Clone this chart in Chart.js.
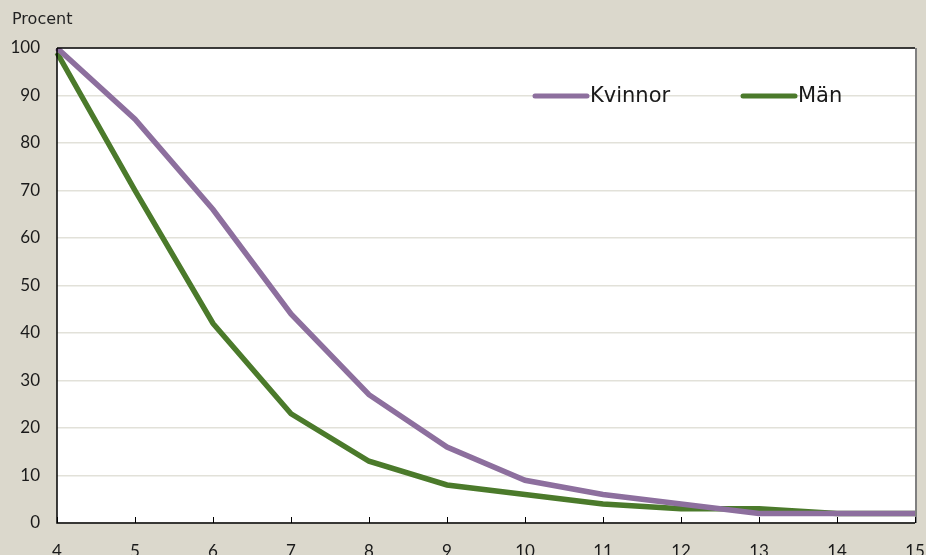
<!DOCTYPE html>
<html>
<head>
<meta charset="utf-8">
<script src="https://cdn.jsdelivr.net/npm/chart.js@4.4.1/dist/chart.umd.min.js"></script>
<style>
  html, body { margin: 0; padding: 0; background: #dbd8cc; }
  #wrap { width: 926px; height: 555px; }
</style>
</head>
<body>
<div id="wrap"><canvas id="myChart" width="926" height="555"></canvas></div>
<script>
// age categories on the x axis
const ages = ['4', '5', '6', '7', '8', '9', '10', '11', '12', '13', '14', '15']
const kvinnor = [100, 85, 66, 44, 27, 16, 9, 6, 4, 2, 2, 2]
const man = [99, 70, 42, 23, 13, 8, 6, 4, 3, 3, 2, 2]
const yTicks = [0, 10, 20, 30, 40, 50, 60, 70, 80, 90, 100]

const purple = '#8d6f9e'
const green = '#4b7a2b'
const font = 'Lato, "DejaVu Sans", sans-serif'
const textFont = '"DejaVu Sans", sans-serif'

const framePlugin = {
  id: 'frame',
  beforeDraw(chart) {
    const { ctx, chartArea: a } = chart
    ctx.save()
    ctx.fillStyle = '#dbd8cc'
    ctx.fillRect(0, 0, chart.width, chart.height)
    ctx.fillStyle = '#ffffff'
    ctx.fillRect(a.left, a.top, a.right - a.left, a.bottom - a.top)
    ctx.restore()
  },
  afterDatasetsDraw(chart) {
    const { ctx, chartArea: a } = chart
    const x = chart.scales.x
    ctx.save()
    // right border (grey)
    ctx.strokeStyle = '#808080'
    ctx.lineWidth = 2
    ctx.beginPath()
    ctx.moveTo(a.right + 1, a.top)
    ctx.lineTo(a.right + 1, a.bottom)
    ctx.stroke()
    // top, left, bottom borders
    ctx.strokeStyle = '#000000'
    ctx.lineWidth = 1.5
    ctx.beginPath()
    ctx.moveTo(a.left, a.top)
    ctx.lineTo(a.right, a.top)
    ctx.moveTo(a.left, a.top)
    ctx.lineTo(a.left, a.bottom)
    ctx.lineTo(a.right, a.bottom)
    ctx.stroke()
    // inward tick marks
    ctx.lineWidth = 1
    ages.forEach((_, i) => {
      const px = Math.round(x.getPixelForValue(i)) + 0.5
      ctx.beginPath()
      ctx.moveTo(px, a.bottom)
      ctx.lineTo(px, a.bottom - 6)
      ctx.stroke()
    })
    // axis title
    ctx.fillStyle = '#222'
    ctx.font = '16px ' + textFont
    ctx.textBaseline = 'middle'
    ctx.textAlign = 'left'
    ctx.fillText('Procent', 12, 20)
    // legend
    const items = [
      { label: chart.data.datasets[0].label, color: purple, x: 535 },
      { label: chart.data.datasets[1].label, color: green, x: 743 }
    ]
    ctx.font = '21px ' + textFont
    ctx.lineCap = 'round'
    items.forEach(it => {
      ctx.strokeStyle = it.color
      ctx.lineWidth = 5
      ctx.beginPath()
      ctx.moveTo(it.x, 96)
      ctx.lineTo(it.x + 52, 96)
      ctx.stroke()
      ctx.fillStyle = '#1a1a1a'
      ctx.fillText(it.label, it.x + 55, 97)
    })
    ctx.restore()
  }
}

const ctx = document.getElementById('myChart')

new Chart(ctx, {
  type: 'line',
  data: {
    labels: ages,
    datasets: [{
      label: 'Kvinnor',
      data: kvinnor,
      borderColor: purple,
      backgroundColor: purple,
      borderWidth: 5.5,
      pointRadius: 0,
      tension: 0
    }, {
      label: 'Män',
      data: man,
      borderColor: green,
      backgroundColor: green,
      borderWidth: 5.5,
      pointRadius: 0,
      tension: 0
    }]
  },
  options: {
    responsive: false,
    animation: false,
    layout: { padding: { top: 48, right: 11, left: 0, bottom: 0 } },
    plugins: {
      legend: { display: false },
      tooltip: { enabled: false }
    },
    scales: {
      x: {
        offset: false,
        grid: { display: false },
        border: { display: false },
        ticks: {
          color: '#1a1a1a',
          font: { family: font, size: 17 },
          padding: 10,
          maxRotation: 0,
          autoSkip: false
        },
        afterFit(scale) {
          scale.height = 32
          scale.paddingLeft = 0
          scale.paddingRight = 0
        }
      },
      y: {
        min: 0,
        max: 100,
        afterBuildTicks(scale) { scale.ticks = yTicks.map(v => ({ value: v })) },
        grid: { color: '#e2e1d9', lineWidth: 1.5, drawTicks: false },
        border: { display: false },
        ticks: {
          color: '#1a1a1a',
          font: { family: font, size: 17 },
          padding: 17
        },
        afterFit(scale) { scale.width = 57 }
      }
    }
  },
  plugins: [framePlugin]
})
</script>
</body>
</html>
